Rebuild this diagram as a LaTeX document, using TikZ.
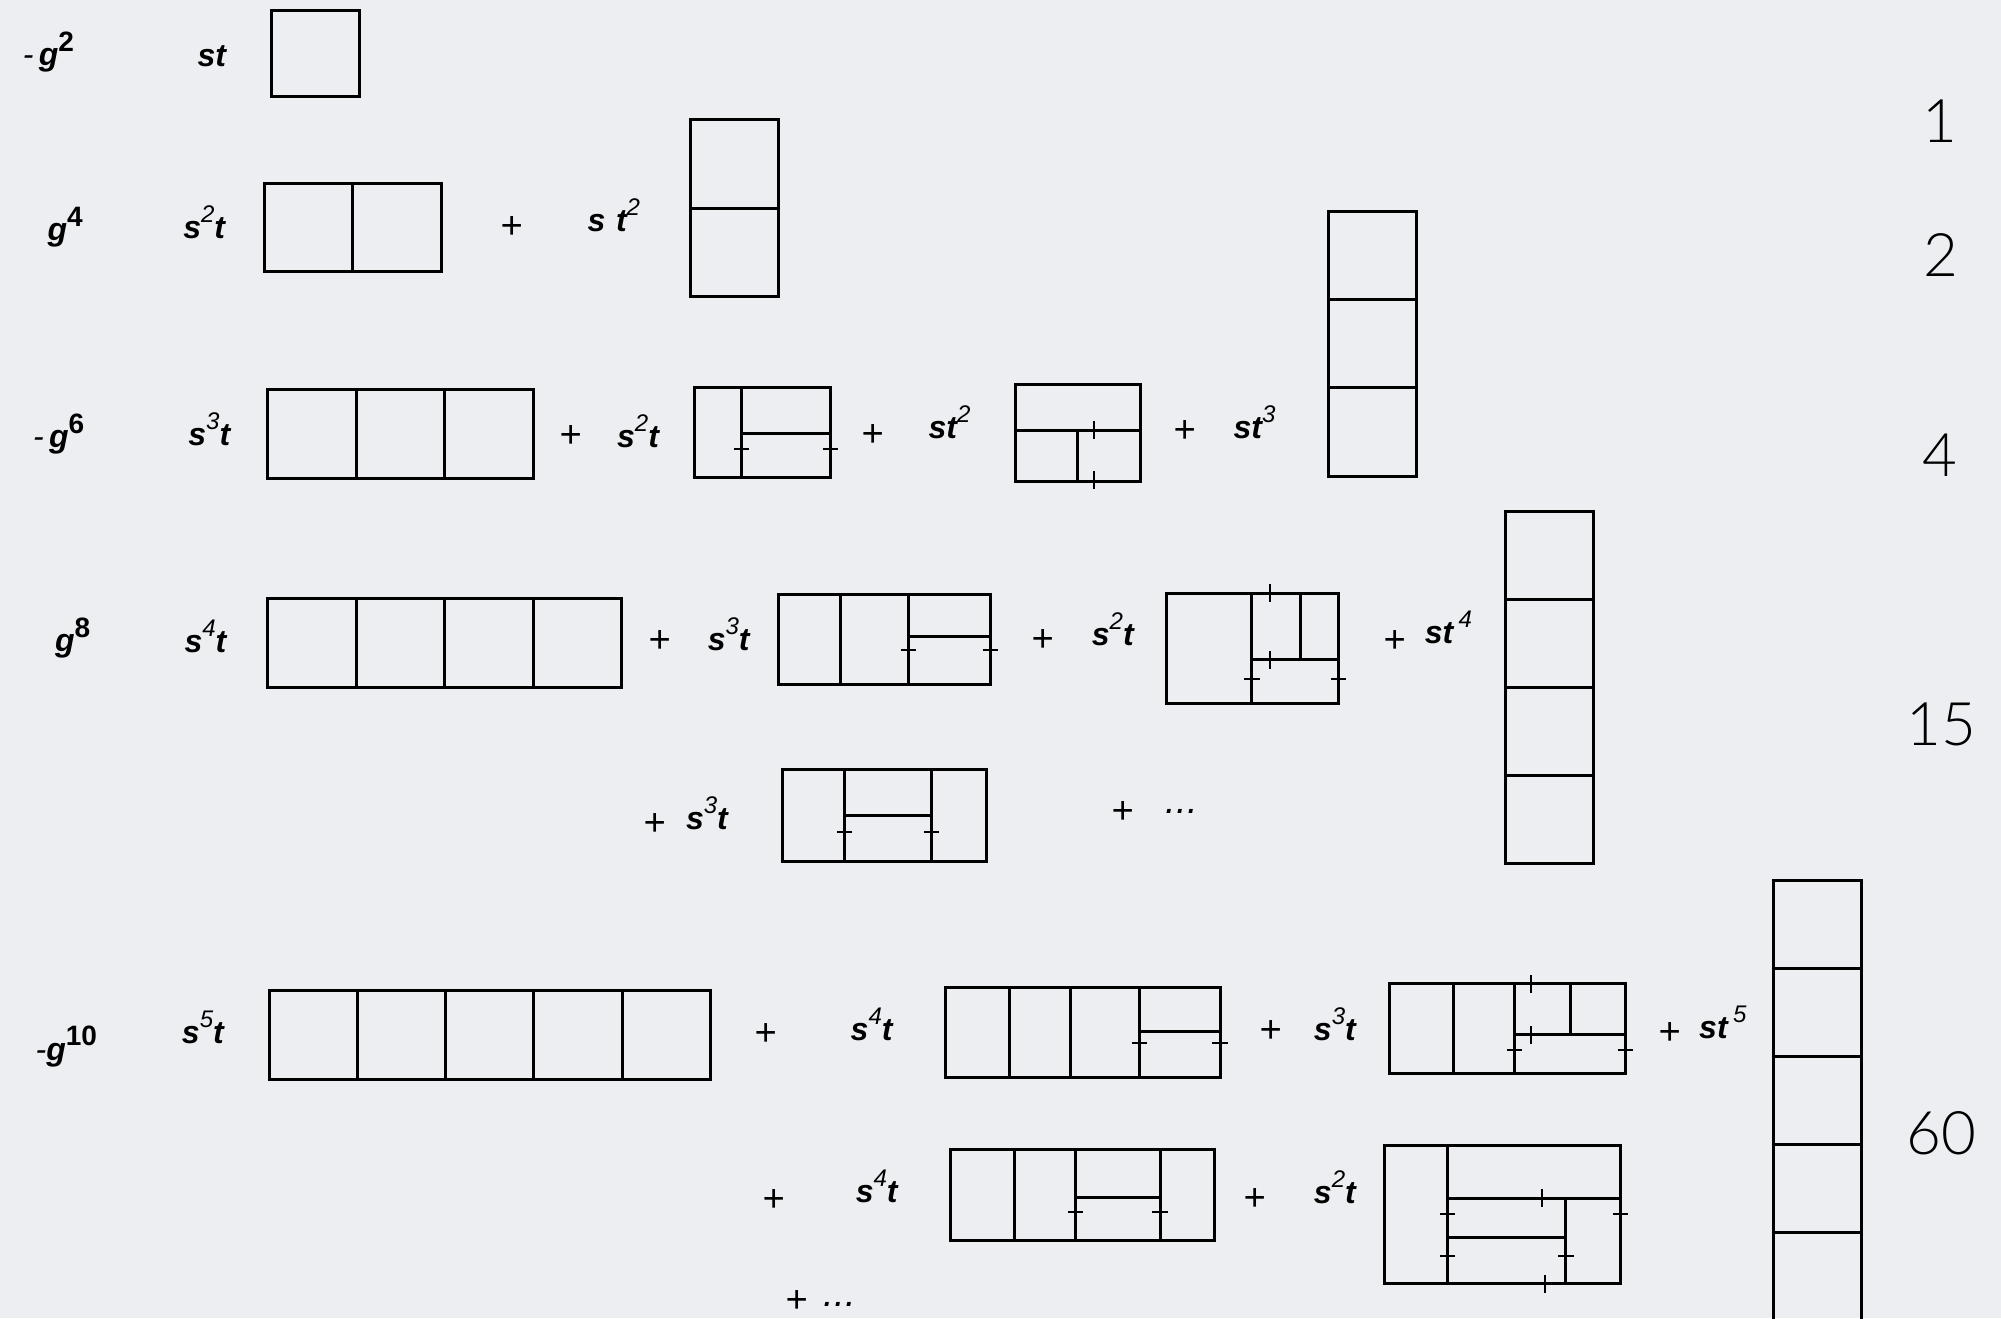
\documentclass[tikz,border=0pt]{standalone}
\usepackage{fontspec}
\setmainfont{Liberation Sans}
\newfontfamily\numfont{Lato Light}
\definecolor{bgc}{RGB}{237,238,241}
\tikzset{
 bx/.style={line width=1.5pt, line cap=rect},
 tk/.style={line width=1pt},
 lbl/.style={font=\fontsize{16}{16}\selectfont\bfseries\itshape, inner sep=0pt},
 op/.style={font=\fontsize{19}{19}\selectfont\itshape, inner sep=0pt},
 num/.style={font=\numfont\fontsize{30}{30}\selectfont, inner sep=0pt},
}
\newcommand\ex[1]{\raisebox{0.5em}{\fontsize{12}{12}\selectfont\mdseries #1}}
\newcommand\gx[1]{\raisebox{0.45em}{\fontsize{14}{14}\selectfont\bfseries\upshape #1}}
\begin{document}
\begin{tikzpicture}[x=0.6375pt,y=-0.6375pt]
\fill[bgc] (0,0) rectangle (1568,1033);
\useasboundingbox (0,0) rectangle (1568,1033);
\clip (0,0) rectangle (1568,1033);
% right numbers
\node[num] (n1) at (1520,95) {1};
\node[num] (n2) at (1521,200) {2};
\node[num] (n4) at (1520,357) {4};
\node[num] (n15) at (1521,568) {15};
\node[num] (n60) at (1521,888) {60};
% row 1
\node[lbl] (g2) at (38,41) {{\mdseries-}\,g\gx{2}};
\node[lbl] (c11) at (166,44) {st};
\draw[bx] (213,8) rectangle (282,76);
% row 2
\node[lbl] (g4) at (51,178) {g\gx{4}};
\node[lbl] (c21) at (160,174) {s\ex{2}t};
\node[op] (p21) at (401,178) {+};
\node[lbl] (c22) at (481,169) {s\,\,t\ex{2}};
\draw[bx] (207,144) rectangle (346,213) (276,144)--(276,213);
\draw[bx] (541,94) rectangle (610,232) (541,163)--(610,163);
% row 3
\node[lbl] (g6) at (46,340) {{\mdseries-}\,g\gx{6}};
\node[lbl] (c31) at (164,336) {s\ex{3}t};
\node[op] (p31) at (447,342) {+};
\node[lbl] (c32) at (500,338) {s\ex{2}t};
\node[op] (p32) at (684,341) {+};
\node[lbl] (c33) at (744,331) {st\ex{2}};
\node[op] (p33) at (928,338) {+};
\node[lbl] (c34) at (983,331) {st\ex{3}};
\draw[bx] (210,305) rectangle (418,375) (279,305)--(279,375) (348,305)--(348,375);
\draw[bx] (544,304) rectangle (651,374) (581,304)--(581,374) (581,340)--(651,340);
\draw[tk] (575,352)--(587,352) (645,352)--(657,352);
\draw[bx] (796,301) rectangle (894,377) (796,337)--(894,337) (844,337)--(844,377);
\draw[tk] (857,330)--(857,344) (857,369)--(857,383);
\draw[bx] (1041,166) rectangle (1110,373) (1041,235)--(1110,235) (1041,304)--(1110,304);
% row 4
\node[lbl] (g8) at (57,500) {g\gx{8}};
\node[lbl] (c41) at (161,499) {s\ex{4}t};
\node[op] (p41) at (517,503) {+};
\node[lbl] (c42) at (571,497) {s\ex{3}t};
\node[op] (p42) at (817,502) {+};
\node[lbl] (c43) at (872,493) {s\ex{2}t};
\node[op] (p43) at (1093,503) {+};
\node[lbl] (c44) at (1135,492) {st\,\ex{4}};
\draw[bx] (210,469) rectangle (487,539) (279,469)--(279,539) (348,469)--(348,539) (418,469)--(418,539);
\draw[bx] (610,466) rectangle (776,536) (659,466)--(659,536) (712,466)--(712,536) (712,499)--(776,499);
\draw[tk] (706,509)--(718,509) (770,509)--(782,509);
\draw[bx] (914,465) rectangle (1049,551) (981,465)--(981,551) (1019,465)--(1019,517) (981,517)--(1049,517);
\draw[tk] (995,458)--(995,472) (995,510)--(995,524) (975,532)--(987,532) (1043,532)--(1055,532);
\draw[bx] (1180,401) rectangle (1249,677) (1180,470)--(1249,470) (1180,539)--(1249,539) (1180,608)--(1249,608);
% row 4b
\node[op] (p44) at (513,646) {+};
\node[lbl] (c45) at (554,637) {s\ex{3}t};
\node[op] (p45) at (880,637) {+};
\node[op] (d4) at (926,636) {...};
\draw[bx] (613,603) rectangle (773,675) (662,603)--(662,675) (730,603)--(730,675) (662,639)--(730,639);
\draw[tk] (656,652)--(668,652) (724,652)--(736,652);
% row 5
\node[lbl] (g10) at (52,820) {{\mdseries-}g\gx{10}};
\node[lbl] (c51) at (159,805) {s\ex{5}t};
\node[op] (p51) at (600,811) {+};
\node[lbl] (c52) at (683,803) {s\ex{4}t};
\node[op] (p52) at (996,808) {+};
\node[lbl] (c53) at (1046,803) {s\ex{3}t};
\node[op] (p53) at (1308,810) {+};
\node[lbl] (c54) at (1350,801) {st\,\ex{5}};
\draw[bx] (211,776) rectangle (557,846) (280,776)--(280,846) (349,776)--(349,846) (418,776)--(418,846) (488,776)--(488,846);
\draw[bx] (741,774) rectangle (956,844) (791,774)--(791,844) (839,774)--(839,844) (893,774)--(893,844) (893,808)--(956,808);
\draw[tk] (887,817)--(899,817) (950,817)--(962,817);
\draw[bx] (1089,771) rectangle (1274,841) (1139,771)--(1139,841) (1187,771)--(1187,841) (1231,771)--(1231,811) (1187,811)--(1274,811);
\draw[tk] (1200,764)--(1200,778) (1200,804)--(1200,818) (1181,823)--(1193,823) (1268,823)--(1280,823);
\draw[bx] (1390,1045)--(1390,690)--(1459,690)--(1459,1045) (1390,759)--(1459,759) (1390,828)--(1459,828) (1390,897)--(1459,897) (1390,966)--(1459,966);
% row 5b
\node[op] (p54) at (606,941) {+};
\node[lbl] (c55) at (687,930) {s\ex{4}t};
\node[op] (p55) at (983,940) {+};
\node[lbl] (c56) at (1046,930) {s\ex{2}t};
\draw[bx] (745,901) rectangle (952,972) (795,901)--(795,972) (843,901)--(843,972) (909,901)--(909,972) (843,938)--(909,938);
\draw[tk] (837,950)--(849,950) (903,950)--(915,950);
\draw[bx] (1085,898) rectangle (1270,1006) (1134,898)--(1134,1006) (1134,939)--(1270,939) (1227,939)--(1227,1006) (1134,970)--(1227,970);
\draw[tk] (1208,932)--(1208,946) (1211,999)--(1211,1013) (1128,951)--(1140,951) (1264,951)--(1276,951) (1128,984)--(1140,984) (1221,984)--(1233,984);
% last line
\node[op] (p56) at (624,1020) {+};
\node[op] (d5) at (658,1022) {...};
\end{tikzpicture}
\end{document}
